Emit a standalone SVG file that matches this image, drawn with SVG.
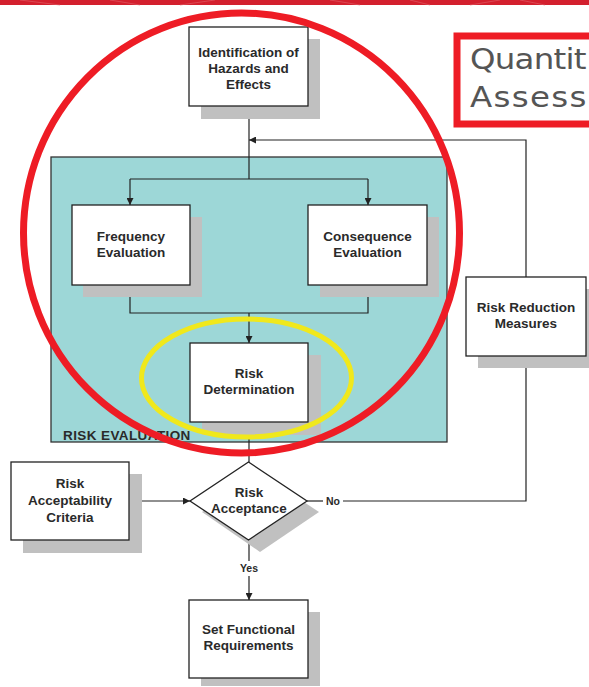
<svg xmlns="http://www.w3.org/2000/svg" width="589" height="687" viewBox="0 0 589 687">
  <defs>
    <marker id="arrow" viewBox="0 0 10 10" refX="10" refY="5" markerWidth="7" markerHeight="7" orient="auto" markerUnits="userSpaceOnUse">
      <path d="M0,0 L10,5 L0,10 z" fill="#222"/>
    </marker>
    <style>
      .box { fill: #fff; stroke: #222; stroke-width: 1.3; }
      .shadow { fill: #c0c0c0; }
      .lbl { font-family: "Liberation Sans", Arial, sans-serif; font-weight: bold; font-size: 13.5px; fill: #2a2a2a; text-anchor: middle; }
      .small { font-size: 10.5px; }
      .wire { fill: none; stroke: #222; stroke-width: 1.2; }
      .title { font-family: "DejaVu Sans", "Liberation Sans", sans-serif; font-size: 29px; fill: #555; }
    </style>
  </defs>

  <rect x="0" y="0" width="589" height="687" fill="#fff"/>

  <!-- top banner -->
  <g id="banner">
    <rect x="0" y="0" width="589" height="5" fill="#d3202e"/>
    <path d="M20,0 L60,5 M110,0 L140,5 M180,5 L215,0 M330,0 L360,5 M410,0 L430,5 M470,5 L500,0 M520,0 L545,5" stroke="#e2606a" stroke-width="1" opacity="0.6"/>
  </g>

  <!-- heading panel -->
  <g id="heading">
    <rect x="457" y="36" width="140" height="88" fill="#fff" stroke="#ee1c25" stroke-width="7"/>
    <g transform="translate(470,0) scale(1.12,1)">
      <text class="title" x="0" y="69" textLength="104" lengthAdjust="spacing">Quantit</text>
      <text class="title" x="0" y="107" textLength="104" lengthAdjust="spacing">Assess</text>
    </g>
  </g>

  <!-- risk evaluation region -->
  <g id="risk-evaluation">
    <rect x="51" y="157" width="396" height="285" fill="#9dd7d7" stroke="#333" stroke-width="1.3"/>
    <text class="lbl" x="63" y="440" style="text-anchor:start;font-size:13.5px;letter-spacing:0.4px">RISK EVALUATION</text>
  </g>

  <!-- connectors -->
  <g id="connectors">
    <path class="wire" d="M249,106 V179"/>
    <path class="wire" d="M130,179 H368"/>
    <path class="wire" d="M130,179 V205" marker-end="url(#arrow)"/>
    <path class="wire" d="M368,179 V205" marker-end="url(#arrow)"/>
    <path class="wire" d="M130,285 V313 H368 V285"/>
    <path class="wire" d="M249,313 V343" marker-end="url(#arrow)"/>
    <path class="wire" d="M249,422 V462"/>
    <path class="wire" d="M129,501 H190" marker-end="url(#arrow)"/>
    <path class="wire" d="M307,501 H323"/>
    <path class="wire" d="M343,501 H526 V357" marker-end="url(#arrow)"/>
    <path class="wire" d="M526,277 V140 H249" marker-end="url(#arrow)"/>
    <path class="wire" d="M249,540 V561"/>
    <path class="wire" d="M249,576 V600" marker-end="url(#arrow)"/>
    <text class="lbl small" x="333" y="505">No</text>
    <text class="lbl small" x="249" y="572">Yes</text>
  </g>

  <g id="identification">
    <rect class="shadow" x="201" y="39" width="119" height="80"/>
    <rect class="box" x="189" y="27" width="119" height="79"/>
    <text class="lbl" x="248.5" y="57">Identification of</text>
    <text class="lbl" x="248.5" y="73">Hazards and</text>
    <text class="lbl" x="248.5" y="89">Effects</text>
  </g>

  <g id="frequency">
    <rect class="shadow" x="83" y="217" width="119" height="80"/>
    <rect class="box" x="72" y="205" width="118" height="80"/>
    <text class="lbl" x="131" y="241">Frequency</text>
    <text class="lbl" x="131" y="257">Evaluation</text>
  </g>

  <g id="consequence">
    <rect class="shadow" x="320" y="217" width="119" height="80"/>
    <rect class="box" x="308" y="205" width="119" height="80"/>
    <text class="lbl" x="367.5" y="241">Consequence</text>
    <text class="lbl" x="367.5" y="257">Evaluation</text>
  </g>

  <g id="determination">
    <rect class="shadow" x="202" y="355" width="119" height="80"/>
    <rect class="box" x="190" y="343" width="118" height="79"/>
    <text class="lbl" x="249" y="378">Risk</text>
    <text class="lbl" x="249" y="394">Determination</text>
  </g>

  <g id="criteria">
    <rect class="shadow" x="23" y="474" width="119" height="79"/>
    <rect class="box" x="11" y="462" width="118" height="78"/>
    <text class="lbl" x="70" y="488">Risk</text>
    <text class="lbl" x="70" y="505">Acceptability</text>
    <text class="lbl" x="70" y="522">Criteria</text>
  </g>

  <g id="acceptance">
    <polygon class="shadow" points="260,473 319,512 260,552 202,512"/>
    <polygon class="box" points="248.5,462 307,501 248.5,540 190,501"/>
    <text class="lbl" x="249" y="497">Risk</text>
    <text class="lbl" x="249" y="513">Acceptance</text>
  </g>

  <g id="reduction">
    <rect class="shadow" x="478" y="289" width="111" height="79"/>
    <rect class="box" x="466" y="277" width="120" height="79"/>
    <text class="lbl" x="526" y="312">Risk Reduction</text>
    <text class="lbl" x="526" y="328">Measures</text>
  </g>

  <g id="requirements">
    <rect class="shadow" x="201" y="612" width="119" height="74"/>
    <rect class="box" x="189" y="600" width="119" height="78"/>
    <text class="lbl" x="248.5" y="634">Set Functional</text>
    <text class="lbl" x="248.5" y="650">Requirements</text>
  </g>

  <!-- highlight rings -->
  <g id="highlights">
    <ellipse cx="246.5" cy="378" rx="105" ry="59" fill="none" stroke="#f0e81c" stroke-width="5"/>
    <ellipse cx="241.5" cy="233" rx="218" ry="220" fill="none" stroke="#ee1c25" stroke-width="7"/>
  </g>
</svg>
